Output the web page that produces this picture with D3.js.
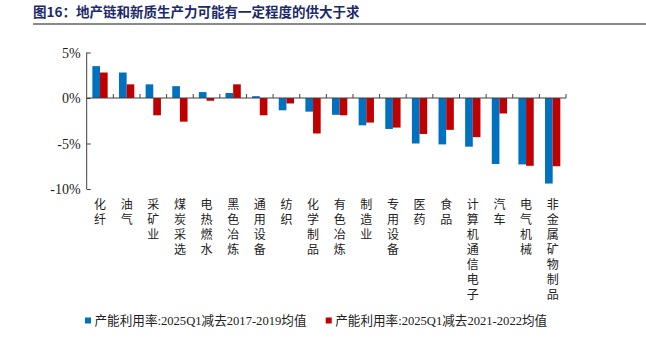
<!DOCTYPE html>
<html>
<head>
<meta charset="utf-8">
<script src="https://cdn.jsdelivr.net/npm/d3@7"></script>
<style>
  body { margin: 0; background: #fff; }
  svg { display: block; }
</style>
</head>
<body>
<div id="chart"></div>
<script>
// categories and the two series (% change in capacity utilisation)
const categories = ["化纤", "油气", "采矿业", "煤炭采选", "电热燃水", "黑色冶炼", "通用设备", "纺织", "化学制品",
  "有色冶炼", "制造业", "专用设备", "医药", "食品", "计算机通信电子", "汽车", "电气机械", "非金属矿物制品"];
const vs2017 = [3.5, 2.8, 1.5, 1.3, 0.65, 0.55, 0.2, -1.35, -1.5, -1.85, -3.0, -3.4, -5.0, -5.1, -5.35, -7.25, -7.3, -9.4];
const vs2021 = [2.8, 1.5, -1.9, -2.6, -0.3, 1.5, -1.9, -0.6, -3.9, -1.9, -2.7, -3.25, -3.95, -3.5, -4.3, -1.7, -7.45, -7.5];
const seriesNames = ["产能利用率:2025Q1减去2017-2019均值", "产能利用率:2025Q1减去2021-2022均值"];
const seriesColors = ["#0070C0", "#C00000"];
const yTicks = [5, 0, -5, -10];

const W = 646, H = 350;
const plot = { left: 86.7, right: 566, top: 52.5, bottom: 189 };
const latinCjk = "'Liberation Serif', 'Noto Sans CJK SC', serif";

const svg = d3.select("#chart").append("svg")
  .attr("width", W).attr("height", H);

// title
svg.append("text")
  .attr("x", 33).attr("y", 17)
  .attr("fill", "#1c2a6b")
  .style("font-family", "'Noto Sans CJK SC', sans-serif")
  .style("font-weight", "bold")
  .style("font-size", "13.5px")
  .text("图16：地产链和新质生产力可能有一定程度的供大于求");

svg.append("line")
  .attr("x1", 33).attr("x2", W).attr("y1", 24).attr("y2", 24)
  .attr("stroke", "#8a8a8a").attr("stroke-width", 2);

// scales
const x0 = d3.scaleBand().domain(categories).range([plot.left, plot.right]).padding(0);
const groupW = x0.bandwidth() * 0.575;
const x1 = d3.scaleBand().domain([0, 1])
  .range([(x0.bandwidth() - groupW) / 2, (x0.bandwidth() + groupW) / 2]).padding(0);
const y = d3.scaleLinear().domain([-10, 5]).range([plot.bottom, plot.top]);

// bars
const series = [vs2017, vs2021];
series.forEach((vals, si) => {
  svg.append("g").selectAll("rect")
    .data(vals)
    .join("rect")
    .attr("x", (d, i) => x0(categories[i]) + x1(si))
    .attr("width", x1.bandwidth())
    .attr("y", d => y(Math.max(0, d)))
    .attr("height", d => Math.abs(y(d) - y(0)))
    .attr("fill", seriesColors[si]);
});

const axisColor = "#404040";

// y axis
const yAxis = svg.append("g").attr("transform", `translate(${plot.left},0)`)
  .call(d3.axisRight(y).tickValues(yTicks).tickSize(4).tickFormat(""));
yAxis.select(".domain").attr("stroke", axisColor).attr("d", `M0,${plot.top}V${plot.bottom}`);
yAxis.selectAll(".tick line").attr("stroke", axisColor);

svg.append("g").selectAll("text")
  .data(yTicks)
  .join("text")
  .attr("x", plot.left - 6)
  .attr("y", d => y(d))
  .attr("dy", "0.36em")
  .attr("text-anchor", "end")
  .style("font-family", latinCjk)
  .style("font-size", "14px")
  .attr("fill", "#222")
  .text(d => d + "%");

// x axis at zero, tick marks on category boundaries pointing up
const bounds = categories.map(c => x0(c)).concat([plot.right]).slice(1);
svg.append("line")
  .attr("x1", plot.left).attr("x2", plot.right)
  .attr("y1", y(0)).attr("y2", y(0))
  .attr("stroke", axisColor).attr("stroke-width", 1.2);
svg.append("g").selectAll("line")
  .data(bounds)
  .join("line")
  .attr("x1", d => d).attr("x2", d => d)
  .attr("y1", y(0)).attr("y2", y(0) - 4)
  .attr("stroke", axisColor);

// vertical category labels (vertical writing mode, upright CJK)
svg.append("g").selectAll("text")
  .data(categories)
  .join("text")
  .attr("x", d => x0(d) + x0.bandwidth() / 2)
  .attr("y", 198)
  .style("writing-mode", "vertical-rl")
  .style("text-orientation", "upright")
  .style("letter-spacing", "3px")
  .style("font-family", "'Noto Sans CJK SC', sans-serif")
  .style("font-size", "12px")
  .attr("fill", "#222")
  .text(d => d);

// legend
const legendX = [85, 325.7];
seriesNames.forEach((name, i) => {
  const g = svg.append("g").attr("transform", `translate(${legendX[i]},320.5)`);
  g.append("rect").attr("x", 0).attr("y", -3).attr("width", 6).attr("height", 6)
    .attr("fill", seriesColors[i]);
  g.append("text")
    .attr("x", 9.5).attr("y", 0).attr("dy", "0.36em")
    .style("font-family", latinCjk)
    .style("font-size", "12.6px")
    .attr("fill", "#222")
    .text(name);
});
</script>
</body>
</html>
